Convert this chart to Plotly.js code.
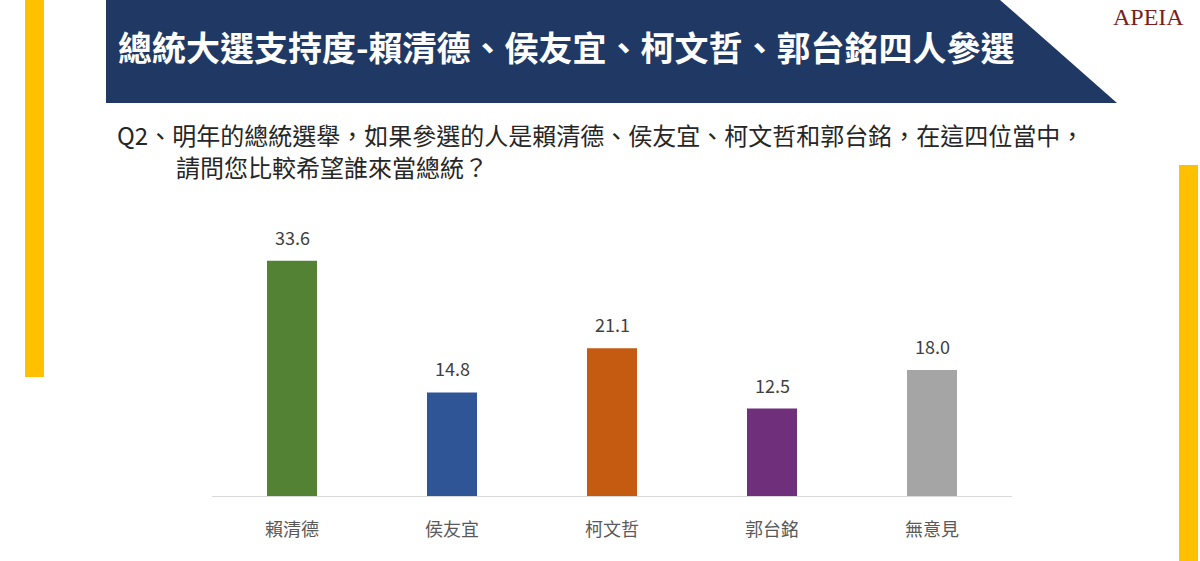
<!DOCTYPE html>
<html>
<head>
<meta charset="utf-8">
<script src="https://cdn.plot.ly/plotly-3.0.1.min.js"></script>
<style>html,body{margin:0;padding:0;background:#fff;}#chart{width:1200px;height:561px;}</style>
</head>
<body>
<div id="chart"></div>
<script>
const categories = ["賴清德", "侯友宜", "柯文哲", "郭台銘", "無意見"];
const values = [33.6, 14.8, 21.1, 12.5, 18.0];
const valueLabels = ["33.6", "14.8", "21.1", "12.5", "18.0"];
const barColors = ["#548235", "#2F5597", "#C55A11", "#6F2F7A", "#A5A5A5"];
const titleText = "總統大選支持度-賴清德、侯友宜、柯文哲、郭台銘四人參選";
const questionLine1 = "Q2、明年的總統選舉，如果參選的人是賴清德、侯友宜、柯文哲和郭台銘，在這四位當中，";
const questionLine2 = "請問您比較希望誰來當總統？";

const W = 1200, H = 561;
const L = 212, R = 1012, T = 216, B = 496;
const px = x => (x - L) / (R - L);
const py = y => (B - y) / (B - T);

const font = "'Noto Sans CJK TC', 'Noto Sans', sans-serif";

const trace = {
  type: "bar",
  x: categories,
  y: values,
  marker: {color: barColors},
  hoverinfo: "none"
};

const valueAnnotations = categories.map((c, i) => ({
  x: c, y: values[i], xref: "x", yref: "y",
  text: valueLabels[i], showarrow: false,
  yanchor: "bottom", yshift: 9,
  font: {family: font, size: 18, color: "#404040"}
}));

const bannerPath = `M ${px(106)},${py(0)} L ${px(1000)},${py(0)} L ${px(1117)},${py(103)} L ${px(106)},${py(103)} Z`;

const layout = {
  width: W, height: H,
  margin: {l: L, r: W - R, t: T, b: H - B},
  paper_bgcolor: "#ffffff",
  plot_bgcolor: "#ffffff",
  showlegend: false,
  bargap: 0.6875,
  xaxis: {
    showline: true, linecolor: "#D9D9D9", linewidth: 1,
    ticks: "", showgrid: false,
    tickfont: {family: font, size: 18, color: "#595959"},
    ticklabelstandoff: 17,
    fixedrange: true
  },
  yaxis: {
    range: [0, 40], visible: false, showgrid: false, zeroline: false, fixedrange: true
  },
  shapes: [
    {type: "path", xref: "paper", yref: "paper", path: bannerPath, fillcolor: "#1F3864", line: {width: 0}, layer: "below"},
    {type: "rect", xref: "paper", yref: "paper", x0: px(25), x1: px(44), y0: py(0), y1: py(377), fillcolor: "#FFC000", line: {width: 0}, layer: "below"},
    {type: "rect", xref: "paper", yref: "paper", x0: px(1179), x1: px(1198), y0: py(165), y1: py(561), fillcolor: "#FFC000", line: {width: 0}, layer: "below"}
  ],
  annotations: [
    {xref: "paper", yref: "paper", x: px(116), y: py(47), xanchor: "left", yanchor: "middle", showarrow: false,
     text: "<b>" + titleText + "</b>", font: {family: font, size: 34, color: "#ffffff"}},
    {xref: "paper", yref: "paper", x: px(1148), y: py(17), xanchor: "center", yanchor: "middle", showarrow: false,
     text: "APEIA", font: {family: "'Liberation Serif', serif", size: 24, color: "#7B1E1E"}},
    {xref: "paper", yref: "paper", x: px(115), y: py(134), xanchor: "left", yanchor: "middle", showarrow: false,
     text: questionLine1, font: {family: font, size: 24, color: "#262626"}},
    {xref: "paper", yref: "paper", x: px(174), y: py(166), xanchor: "left", yanchor: "middle", showarrow: false,
     text: questionLine2, font: {family: font, size: 24, color: "#262626"}}
  ].concat(valueAnnotations)
};

Plotly.newPlot("chart", [trace], layout, {displayModeBar: false, staticPlot: true});
</script>
</body>
</html>
